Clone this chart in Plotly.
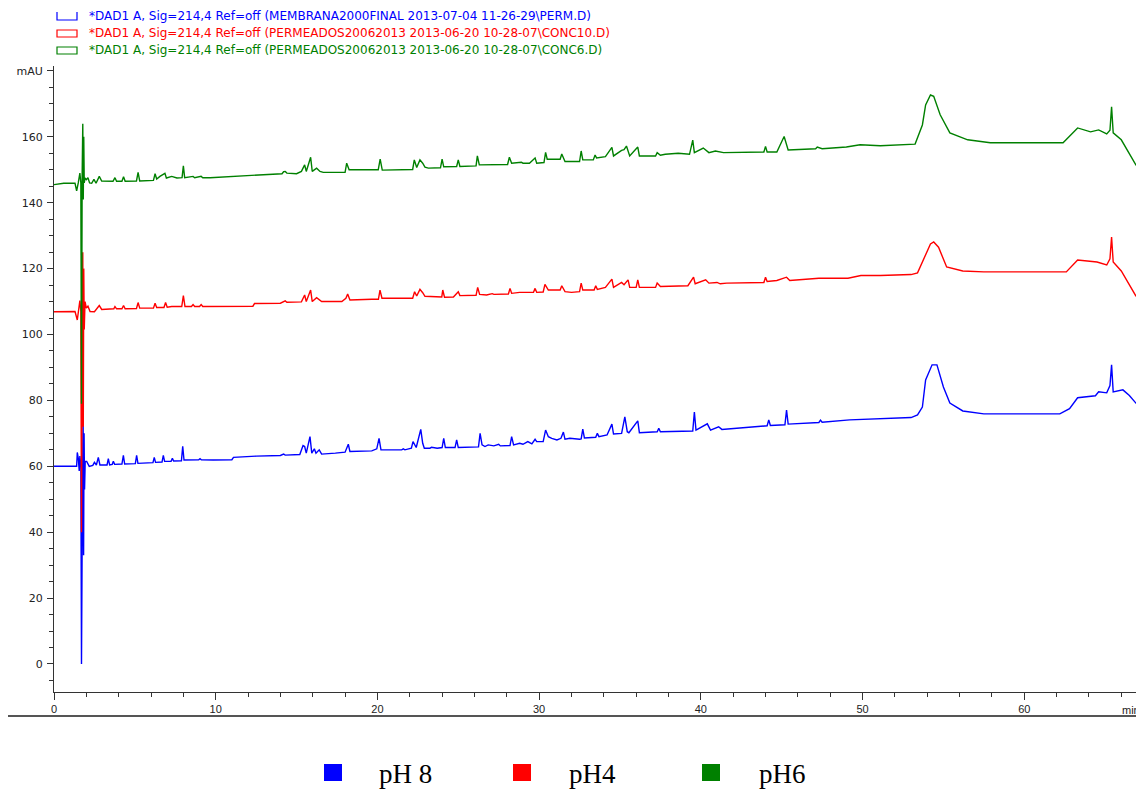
import plotly.graph_objects as go

# ---------------- data (retention time in min, signal in mAU) ----------------
series_names = ["pH 8", "pH4", "pH6"]
series_colors = ["#0000FF", "#FF0000", "#008000"]
header_texts = [
    r"*DAD1 A, Sig=214,4 Ref=off (MEMBRANA2000FINAL 2013-07-04 11-26-29\PERM.D)",
    r"*DAD1 A, Sig=214,4 Ref=off (PERMEADOS20062013 2013-06-20 10-28-07\CONC10.D)",
    r"*DAD1 A, Sig=214,4 Ref=off (PERMEADOS20062013 2013-06-20 10-28-07\CONC6.D)",
]

ph8_points = [
    (0, 60.0), (1.40, 60.0), (1.44, 64.2), (1.50, 62.5), (1.56, 58.6), (1.60, 63.1), (1.66, 60.0),
    (1.70, 0.0), (1.74, 36.0), (1.78, 53.0), (1.80, 76.5), (1.83, 33.0), (1.86, 70.0), (1.89, 53.0),
    (1.93, 61.5), (2.02, 61.5), (2.18, 60.0), (2.40, 60.3), (2.50, 61.2), (2.62, 60.4), (2.74, 62.7),
    (2.84, 60.4), (3.28, 60.4), (3.36, 62.3), (3.44, 60.4), (3.60, 60.6), (3.67, 61.5), (3.75, 60.6),
    (4.20, 60.7), (4.29, 63.3), (4.37, 60.7), (5.03, 60.8), (5.11, 63.3), (5.19, 60.9), (6.12, 61.1),
    (6.20, 62.7), (6.28, 61.2), (6.68, 61.3), (6.76, 63.3), (6.84, 61.5), (7.24, 61.5), (7.32, 62.4),
    (7.40, 61.6), (7.88, 61.7), (7.96, 66.1), (8.04, 61.9), (8.95, 62.0), (9.03, 62.3), (9.11, 62.0),
    (9.85, 61.9), (11.0, 62.0), (11.1, 62.7), (12.5, 63.1), (14.0, 63.3), (14.2, 63.7), (14.3, 63.4),
    (15.2, 63.6), (15.4, 66.3), (15.5, 66.0), (15.6, 64.0), (15.83, 69.0), (15.94, 64.0), (16.1, 65.3),
    (16.2, 64.0), (16.4, 65.0), (16.55, 63.7), (17.4, 64.0), (18.0, 64.3), (18.2, 66.7), (18.3, 64.5),
    (19.65, 64.7), (19.96, 65.3), (20.1, 68.5), (20.22, 65.0), (21.5, 65.0), (21.6, 65.3), (21.7, 65.0),
    (22.1, 65.5), (22.2, 67.5), (22.4, 65.7), (22.68, 71.2), (22.8, 67.0), (22.9, 65.5), (23.25, 65.5),
    (23.35, 65.8), (23.7, 65.5), (24.0, 65.7), (24.1, 68.5), (24.2, 65.7), (24.8, 65.7), (24.9, 68.0),
    (25.0, 65.7), (26.25, 65.9), (26.35, 70.0), (26.47, 66.5), (26.65, 66.0), (26.85, 66.5), (27.2, 66.2),
    (27.5, 66.7), (27.6, 66.2), (28.2, 66.3), (28.3, 69.0), (28.42, 66.5), (28.8, 67.0), (29.0, 66.7),
    (29.3, 67.5), (29.55, 66.8), (29.75, 68.2), (29.85, 67.5), (30.25, 67.5), (30.4, 71.0), (30.57, 69.0),
    (30.78, 68.5), (31.1, 68.0), (31.35, 68.5), (31.5, 70.4), (31.6, 68.2), (31.9, 68.5), (32.5, 68.2),
    (32.6, 68.3), (32.7, 71.3), (32.8, 68.6), (33.5, 68.8), (33.6, 70.0), (33.7, 69.0), (34.2, 69.5),
    (34.5, 72.8), (34.6, 69.8), (35.1, 70.0), (35.3, 75.0), (35.45, 70.5), (35.55, 70.2), (36.1, 73.8),
    (36.2, 70.2), (37.3, 70.5), (37.4, 71.5), (37.5, 70.5), (38.6, 70.6), (39.5, 70.7), (39.6, 76.5),
    (39.7, 71.0), (40.4, 72.9), (40.6, 71.0), (41.1, 72.0), (41.3, 71.2), (44.1, 72.3), (44.2, 74.1),
    (44.3, 72.4), (45.2, 72.6), (45.3, 77.1), (45.4, 72.8), (47.3, 73.3), (47.4, 74.0), (47.5, 73.4),
    (49.2, 74.1), (53.0, 74.8), (53.4, 75.6), (53.7, 78.0), (53.9, 86.2), (54.3, 90.8), (54.6, 90.8),
    (55.0, 84.1), (55.4, 79.2), (56.2, 76.8), (57.5, 75.9), (62.2, 75.9), (62.8, 77.5), (63.3, 80.8),
    (64.4, 81.4), (64.6, 82.6), (65.1, 82.3), (65.3, 84.5), (65.4, 90.8), (65.5, 82.6), (66.1, 83.2),
    (66.5, 81.5), (66.9, 79.2), (67.2, 78.5),
]

ph4_points = [
    (0, 106.9), (0.6, 107.0), (1.30, 107.0), (1.44, 104.4), (1.52, 107.0), (1.60, 110.3), (1.66, 107.0),
    (1.70, 40.0), (1.74, 100.0), (1.78, 125.0), (1.81, 72.0), (1.84, 120.0), (1.87, 101.5), (1.92, 110.0),
    (2.0, 108.0), (2.1, 108.6), (2.23, 107.0), (2.5, 106.9), (2.8, 108.8), (2.95, 107.6), (3.7, 107.8),
    (3.77, 108.5), (3.87, 107.8), (4.2, 107.8), (4.3, 108.8), (4.4, 107.8), (5.1, 107.9), (5.2, 109.7),
    (5.3, 108.0), (6.15, 108.0), (6.25, 109.5), (6.35, 108.2), (6.8, 108.2), (6.9, 109.7), (7.0, 108.3),
    (7.28, 108.5), (7.9, 108.5), (8.0, 111.8), (8.1, 108.5), (8.5, 108.5), (8.6, 109.1), (8.7, 108.5),
    (9.0, 108.5), (9.1, 109.1), (9.2, 108.5), (12.3, 108.6), (12.4, 109.4), (14.0, 109.5), (14.3, 110.2),
    (14.4, 109.8), (15.3, 109.9), (15.5, 112.0), (15.6, 110.0), (15.87, 113.5), (15.97, 110.0),
    (16.24, 111.2), (16.55, 110.0), (17.8, 110.0), (18.05, 111.0), (18.16, 112.3), (18.3, 110.5),
    (19.65, 110.7), (20.06, 110.7), (20.16, 113.5), (20.28, 111.0), (22.18, 111.0), (22.3, 113.0),
    (22.43, 111.7), (22.63, 113.7), (22.8, 112.7), (22.94, 111.6), (23.98, 111.4), (24.04, 113.5),
    (24.15, 111.3), (24.7, 111.4), (25.0, 113.0), (25.1, 111.8), (26.1, 111.9), (26.2, 114.3),
    (26.32, 112.2), (26.75, 112.0), (27.1, 112.4), (27.2, 112.2), (28.1, 112.3), (28.2, 114.0),
    (28.3, 112.5), (28.8, 112.8), (29.65, 112.8), (29.75, 114.0), (29.85, 112.8), (30.25, 112.9),
    (30.36, 115.2), (30.57, 113.5), (31.3, 113.5), (31.4, 114.8), (31.6, 113.0), (32.0, 112.8),
    (32.5, 113.0), (32.6, 115.6), (32.7, 113.5), (33.4, 113.5), (33.5, 114.8), (33.6, 113.7),
    (34.1, 114.3), (34.5, 116.8), (34.6, 114.3), (35.1, 115.8), (35.25, 115.1), (35.5, 116.6),
    (35.6, 114.3), (36.0, 114.3), (36.1, 116.6), (36.2, 114.3), (37.2, 114.3), (37.3, 115.6),
    (37.5, 114.6), (39.2, 114.8), (39.55, 117.4), (39.65, 115.4), (40.3, 116.6), (40.5, 115.6),
    (41.0, 115.8), (41.2, 115.4), (41.6, 115.6), (43.25, 115.6), (43.9, 115.8), (44.0, 117.4),
    (44.1, 116.1), (44.7, 116.4), (45.3, 117.4), (45.5, 116.4), (46.1, 116.6), (47.3, 117.1),
    (49.1, 117.1), (49.9, 117.9), (51.1, 117.9), (53.0, 118.2), (53.4, 118.7), (53.8, 123.0),
    (54.2, 127.5), (54.4, 128.1), (54.7, 126.5), (55.2, 120.5), (56.2, 119.3), (57.5, 119.0),
    (62.6, 119.0), (63.3, 122.6), (64.5, 122.0), (65.1, 121.1), (65.3, 123.0), (65.4, 129.6),
    (65.5, 122.0), (66.0, 119.3), (66.9, 111.7), (67.2, 111.0),
]

ph6_points = [
    (0, 145.5), (0.6, 145.9), (1.30, 145.9), (1.40, 143.6), (1.50, 146.0), (1.60, 149.0), (1.66, 146.0),
    (1.70, 79.0), (1.74, 148.0), (1.78, 164.0), (1.81, 141.0), (1.84, 160.0), (1.87, 146.0), (1.92, 147.5),
    (2.0, 147.0), (2.1, 147.6), (2.2, 146.0), (2.33, 145.9), (2.47, 147.1), (2.6, 145.9), (2.8, 148.0),
    (2.95, 146.6), (3.65, 146.5), (3.77, 147.6), (3.87, 146.5), (4.2, 146.5), (4.3, 147.9), (4.4, 146.5),
    (5.1, 146.6), (5.2, 149.2), (5.3, 146.6), (6.15, 146.8), (6.25, 148.8), (6.35, 147.2), (6.55, 148.0),
    (6.86, 148.9), (6.95, 147.5), (7.28, 148.0), (7.6, 147.5), (7.92, 147.6), (8.0, 151.2), (8.08, 147.6),
    (8.6, 148.0), (8.7, 147.6), (9.1, 148.0), (9.2, 147.6), (9.65, 147.6), (11.4, 148.0), (12.75, 148.4),
    (14.1, 148.8), (14.2, 149.4), (14.3, 149.5), (14.4, 149.0), (15.0, 148.8), (15.3, 149.5),
    (15.5, 151.5), (15.6, 149.5), (15.87, 153.8), (15.97, 149.5), (16.24, 150.5), (16.45, 149.5),
    (16.65, 149.2), (18.0, 149.2), (18.1, 152.0), (18.25, 150.0), (20.05, 150.0), (20.17, 153.2),
    (20.3, 149.9), (22.18, 150.1), (22.28, 153.0), (22.43, 150.7), (22.63, 153.0), (22.8, 152.0),
    (22.94, 150.8), (23.15, 150.5), (23.9, 150.6), (24.0, 153.2), (24.1, 150.9), (24.9, 151.0),
    (25.0, 153.0), (25.1, 151.0), (26.1, 151.2), (26.18, 154.2), (26.3, 151.5), (28.05, 151.6),
    (28.16, 153.8), (28.3, 152.0), (28.9, 152.3), (29.0, 152.0), (29.4, 152.0), (29.75, 153.6),
    (29.85, 152.0), (30.3, 152.2), (30.4, 155.3), (30.5, 153.2), (31.3, 153.2), (31.4, 154.8),
    (31.6, 152.5), (32.5, 152.5), (32.6, 155.7), (32.7, 153.0), (33.35, 153.0), (33.46, 154.5),
    (33.55, 153.6), (34.1, 154.0), (34.5, 156.8), (34.6, 154.2), (35.1, 155.9), (35.25, 156.1),
    (35.4, 157.2), (35.6, 154.2), (36.1, 156.9), (36.2, 154.2), (37.2, 154.2), (37.3, 155.2),
    (37.5, 154.4), (37.8, 154.7), (38.6, 155.0), (39.3, 154.7), (39.5, 159.0), (39.6, 155.2),
    (40.15, 156.6), (40.5, 155.2), (40.9, 155.7), (41.4, 155.2), (43.55, 155.2), (43.9, 155.4),
    (44.0, 157.1), (44.1, 155.4), (44.7, 155.4), (45.15, 160.1), (45.4, 156.0), (47.1, 156.4),
    (47.2, 156.9), (47.5, 156.4), (49.0, 156.9), (49.85, 157.6), (51.1, 157.3), (53.1, 157.6),
    (53.25, 157.8), (53.7, 163.6), (53.9, 169.7), (54.2, 172.7), (54.4, 172.3), (54.8, 166.7),
    (55.4, 161.2), (56.5, 159.1), (57.9, 158.2), (62.4, 158.2), (63.3, 162.7), (64.1, 161.5),
    (64.6, 162.1), (65.1, 160.9), (65.3, 162.0), (65.4, 169.1), (65.5, 161.2), (66.0, 159.1),
    (66.9, 151.5), (67.2, 150.0),
]

x_tick_values = [0, 10, 20, 30, 40, 50, 60]
y_tick_values = [0, 20, 40, 60, 80, 100, 120, 140, 160, 180]
y_tick_labels = ["0", "20", "40", "60", "80", "100", "120", "140", "160", "mAU"]

# ---------------- figure ----------------
W, H = 1136, 790
L, R, T, B = 54, 0, 66, 98
PW, PH = W - L - R, H - T - B


def px2x(px):
    return (px - L) / PW


def px2y(py):
    return (H - B - py) / PH


fig = go.Figure()
for name, color, pts in zip(series_names, series_colors, [ph8_points, ph4_points, ph6_points]):
    t_vals = [p[0] for p in pts]
    v_vals = [p[1] for p in pts]
    fig.add_trace(go.Scatter(x=t_vals, y=v_vals, mode="lines", name=name,
                             line=dict(color=color, width=1.4), showlegend=False))

axis_color = "#333333"
fig.update_layout(
    width=W, height=H,
    margin=dict(l=L, r=R, t=T, b=B, pad=0),
    paper_bgcolor="white", plot_bgcolor="white",
    xaxis=dict(range=[0, 66.91], showgrid=False, zeroline=False, showline=True,
               linecolor=axis_color, linewidth=1, ticks="outside", ticklen=7,
               tickcolor=axis_color, tickvals=x_tick_values,
               tickfont=dict(family="Liberation Sans, Arial", size=11, color="#222222"),
               minor=dict(dtick=2, ticks="outside", ticklen=4, tickcolor=axis_color)),
    yaxis=dict(range=[-8.5, 181.5], showgrid=False, zeroline=False, showline=True,
               linecolor=axis_color, linewidth=1, ticks="outside", ticklen=6,
               tickcolor=axis_color, tickvals=y_tick_values, ticktext=y_tick_labels,
               ticklabelstandoff=2,
               tickfont=dict(family="DejaVu Sans", size=11, color="#222222"),
               minor=dict(dtick=5, ticks="outside", ticklen=4, tickcolor=axis_color)),
)

shapes = []
annotations = []

# header (instrument signal list)
header_y = [16, 33, 50]
for i, (txt, color, yy) in enumerate(zip(header_texts, series_colors, header_y)):
    if i == 0:
        shapes.append(dict(type="path", xref="paper", yref="paper",
                           path=f"M {px2x(57)},{px2y(12)} L {px2x(57)},{px2y(20)} L {px2x(77)},{px2y(20)} L {px2x(77)},{px2y(12)}",
                           line=dict(color=color, width=1.2)))
    else:
        shapes.append(dict(type="rect", xref="paper", yref="paper",
                           x0=px2x(57), x1=px2x(77), y0=px2y(yy + 4), y1=px2y(yy - 3),
                           line=dict(color=color, width=1.2), fillcolor="rgba(0,0,0,0)"))
    annotations.append(dict(text=txt, xref="paper", yref="paper", x=px2x(87), y=px2y(yy),
                            xanchor="left", yanchor="middle", showarrow=False,
                            font=dict(family="DejaVu Sans", size=12, color=color)))

# "min" axis unit (cut off at right edge, as in the original)
annotations.append(dict(text="min", xref="paper", yref="paper", x=px2x(1120), y=px2y(710),
                        xanchor="left", yanchor="middle", showarrow=False,
                        font=dict(family="Liberation Sans, Arial", size=11, color="#222222")))

# bottom rule
shapes.append(dict(type="line", xref="paper", yref="paper", x0=px2x(8), x1=px2x(1140),
                   y0=px2y(716), y1=px2y(716), line=dict(color="#555555", width=2)))

# bottom legend
sq_x = [324, 513, 702]
txt_x = [377, 567, 757]
for name, color, sx, tx in zip(series_names, series_colors, sq_x, txt_x):
    shapes.append(dict(type="rect", xref="paper", yref="paper",
                       x0=px2x(sx), x1=px2x(sx + 18), y0=px2y(781), y1=px2y(764),
                       line=dict(width=0), fillcolor=color))
    annotations.append(dict(text=name, xref="paper", yref="paper", x=px2x(tx), y=px2y(774),
                            xanchor="left", yanchor="middle", showarrow=False,
                            font=dict(family="Liberation Serif, Times New Roman", size=27, color="black")))

fig.update_layout(shapes=shapes, annotations=annotations)
fig.write_html("out.html")
